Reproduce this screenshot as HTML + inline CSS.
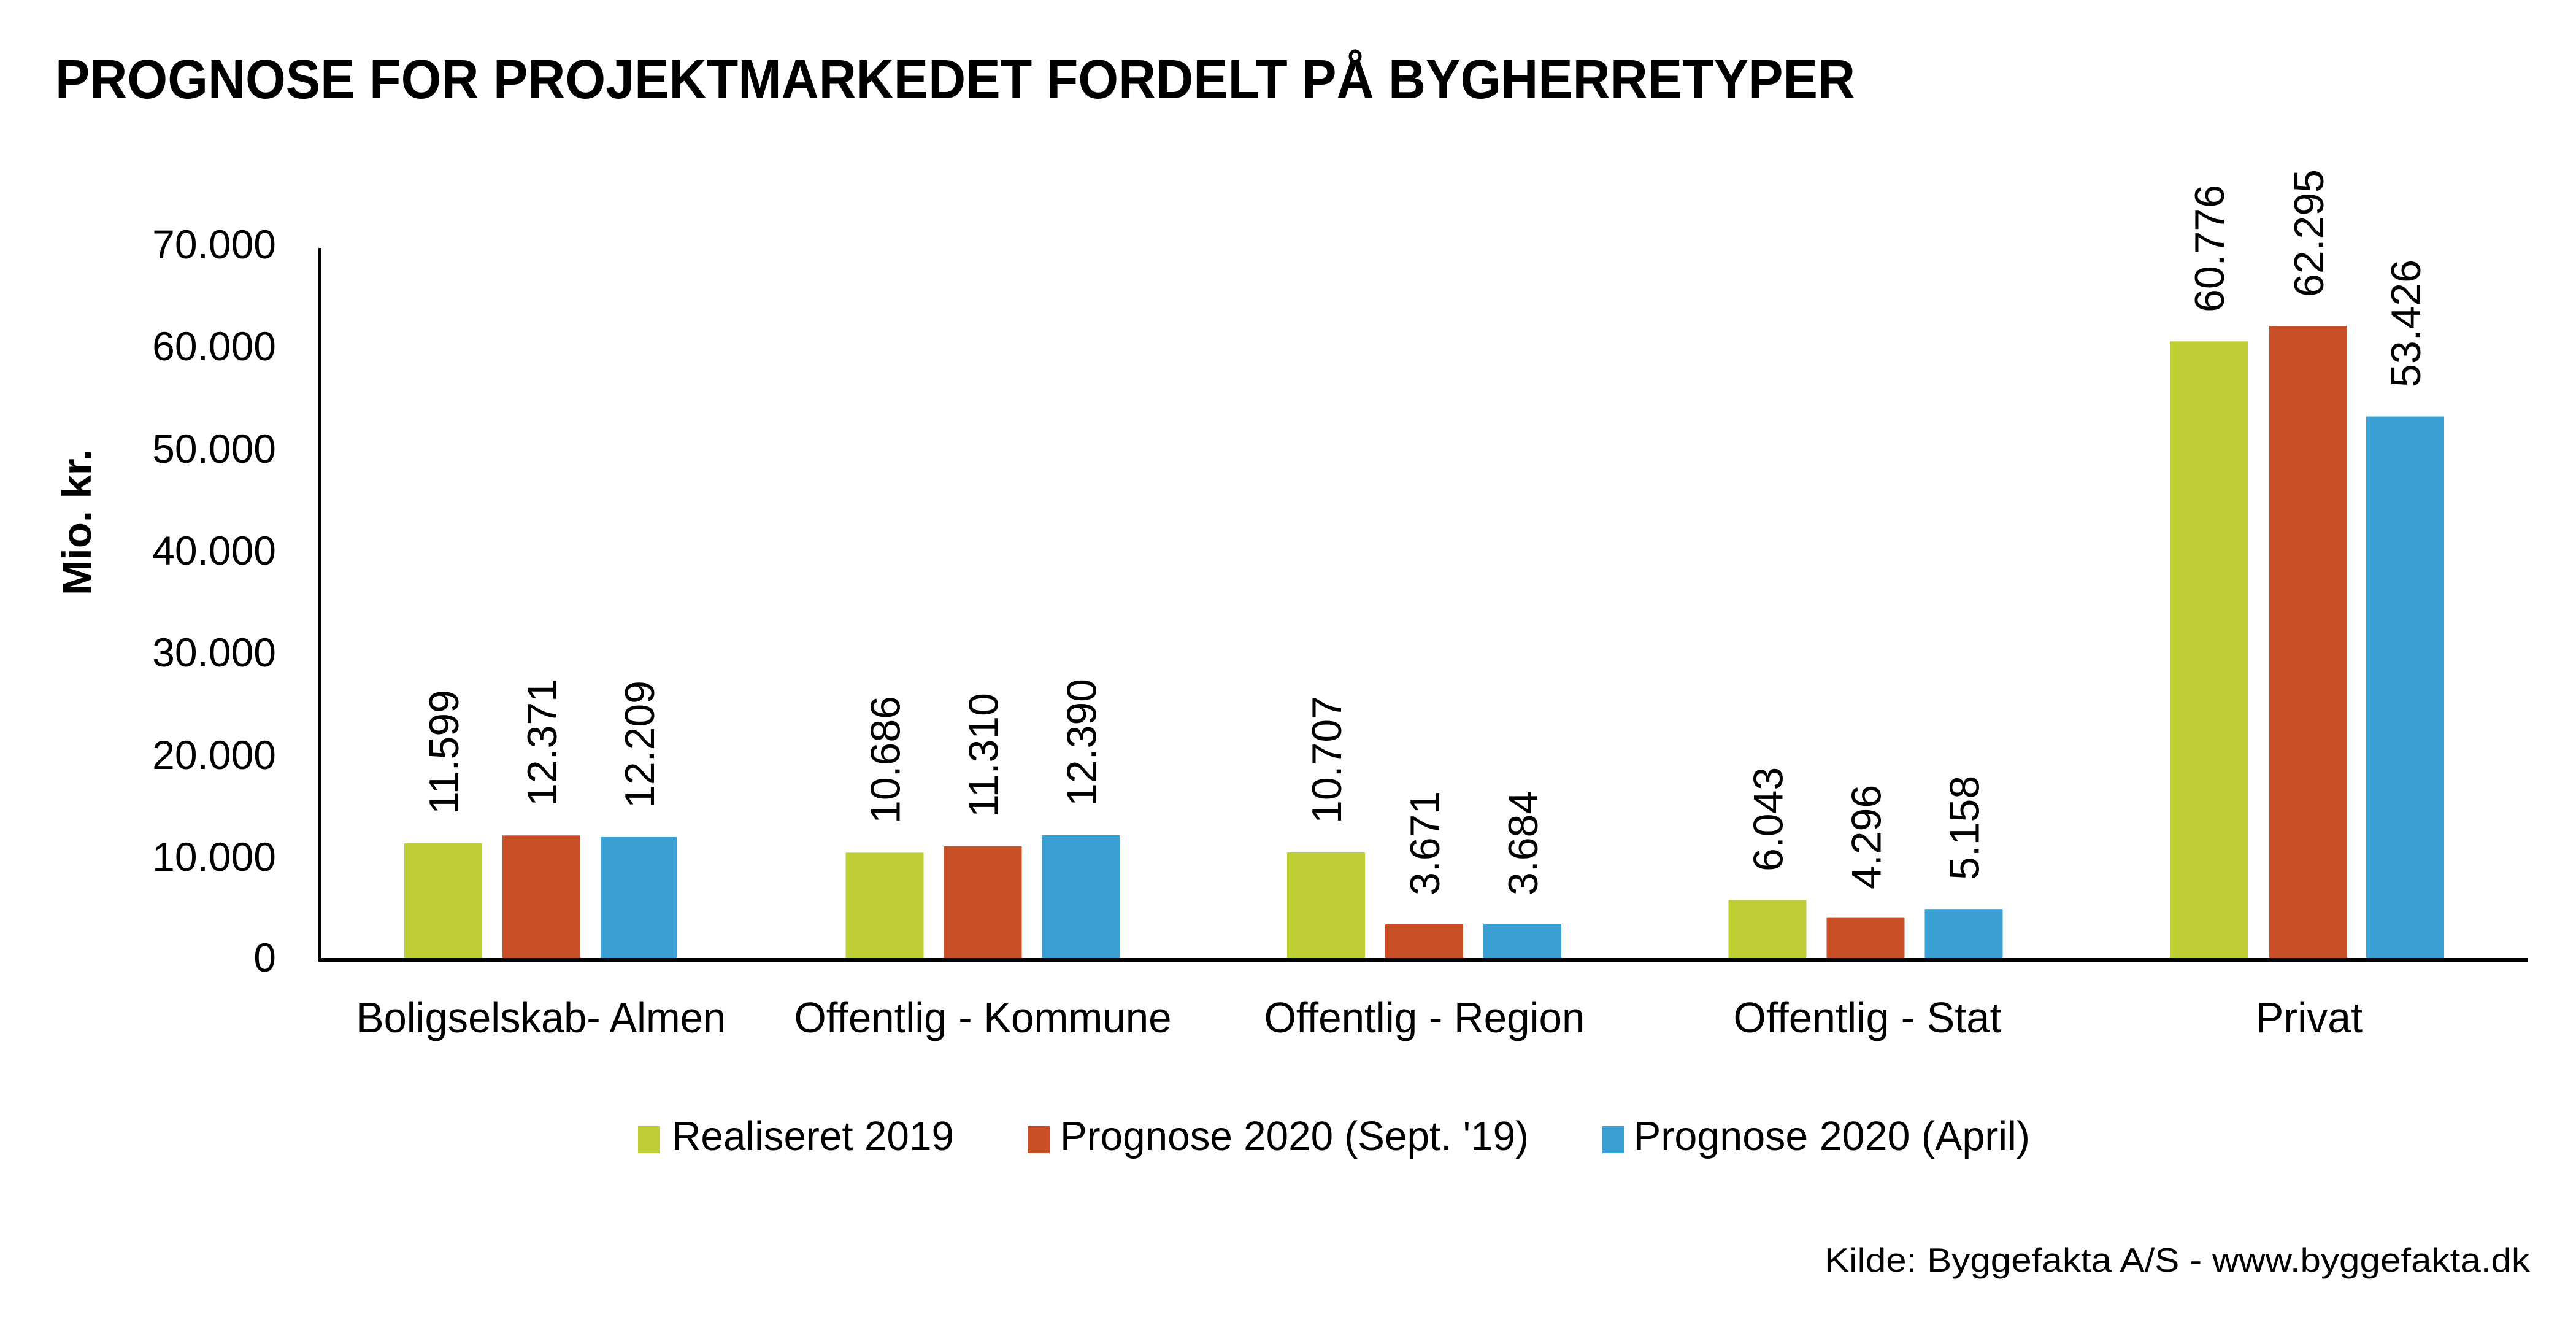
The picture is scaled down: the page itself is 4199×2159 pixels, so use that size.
<!DOCTYPE html>
<html>
<head>
<meta charset="utf-8">
<style>
html,body{margin:0;padding:0;background:#fff;}
svg{display:block;}
text{font-family:"Liberation Sans",Arial,sans-serif;fill:#000;}
</style>
</head>
<body>
<svg width="4199" height="2159" viewBox="0 0 4199 2159" xmlns="http://www.w3.org/2000/svg">
<rect x="0" y="0" width="4199" height="2159" fill="#fff"/>

<!-- Title -->
<text x="90" y="160" font-size="90" font-weight="bold" textLength="2934" lengthAdjust="spacingAndGlyphs">PROGNOSE FOR PROJEKTMARKEDET FORDELT PÅ BYGHERRETYPER</text>

<!-- Y axis title -->
<text transform="translate(148,851) rotate(-90)" x="0" y="0" font-size="66" font-weight="bold" text-anchor="middle" textLength="238" lengthAdjust="spacingAndGlyphs">Mio. kr.</text>

<!-- Y tick labels -->
<g font-size="66" text-anchor="end">
<text x="450" y="421">70.000</text>
<text x="450" y="587">60.000</text>
<text x="450" y="754">50.000</text>
<text x="450" y="920">40.000</text>
<text x="450" y="1086">30.000</text>
<text x="450" y="1253">20.000</text>
<text x="450" y="1419">10.000</text>
<text x="450" y="1583">0</text>
</g>

<!-- Bars -->
<g>
<!-- Group 1 -->
<rect x="659" y="1374.1" width="127" height="189.9" fill="#BECE34"/>
<rect x="819" y="1361.3" width="127" height="202.7" fill="#C74E25"/>
<rect x="979" y="1364.0" width="124" height="200.0" fill="#3AA0D3"/>
<!-- Group 2 -->
<rect x="1378.5" y="1389.3" width="127" height="174.7" fill="#BECE34"/>
<rect x="1538.5" y="1378.9" width="127" height="185.1" fill="#C74E25"/>
<rect x="1698.5" y="1361.0" width="127" height="203.0" fill="#3AA0D3"/>
<!-- Group 3 -->
<rect x="2098" y="1388.9" width="127" height="175.1" fill="#BECE34"/>
<rect x="2258" y="1506.0" width="127" height="58.0" fill="#C74E25"/>
<rect x="2418" y="1505.7" width="127" height="58.3" fill="#3AA0D3"/>
<!-- Group 4 -->
<rect x="2817.5" y="1466.5" width="127" height="97.5" fill="#BECE34"/>
<rect x="2977.5" y="1495.6" width="127" height="68.4" fill="#C74E25"/>
<rect x="3137.5" y="1481.2" width="127" height="82.8" fill="#3AA0D3"/>
<!-- Group 5 -->
<rect x="3537" y="556.3" width="127" height="1007.7" fill="#BECE34"/>
<rect x="3699" y="531.0" width="127" height="1033.0" fill="#C74E25"/>
<rect x="3857" y="678.5" width="127" height="885.5" fill="#3AA0D3"/>
</g>

<!-- Axes -->
<rect x="519" y="404" width="5" height="1163" fill="#000"/>
<rect x="519" y="1561" width="3601" height="6" fill="#000"/>

<!-- Data labels (rotated) -->
<g font-size="68">
<text transform="translate(747,1327) rotate(-90)">11.599</text>
<text transform="translate(907,1314) rotate(-90)">12.371</text>
<text transform="translate(1066,1317) rotate(-90)">12.209</text>

<text transform="translate(1466.5,1342) rotate(-90)">10.686</text>
<text transform="translate(1626.5,1332) rotate(-90)">11.310</text>
<text transform="translate(1786.5,1314) rotate(-90)">12.390</text>

<text transform="translate(2186,1342) rotate(-90)">10.707</text>
<text transform="translate(2346,1459) rotate(-90)">3.671</text>
<text transform="translate(2506,1459) rotate(-90)">3.684</text>

<text transform="translate(2905.5,1420) rotate(-90)">6.043</text>
<text transform="translate(3065.5,1449) rotate(-90)">4.296</text>
<text transform="translate(3225.5,1434) rotate(-90)">5.158</text>

<text transform="translate(3625,509) rotate(-90)">60.776</text>
<text transform="translate(3787,484) rotate(-90)">62.295</text>
<text transform="translate(3945,631) rotate(-90)">53.426</text>
</g>

<!-- Category labels -->
<g font-size="70" text-anchor="middle">
<text x="882" y="1682" textLength="602" lengthAdjust="spacingAndGlyphs">Boligselskab- Almen</text>
<text x="1602" y="1682" textLength="615" lengthAdjust="spacingAndGlyphs">Offentlig - Kommune</text>
<text x="2322" y="1682" textLength="523" lengthAdjust="spacingAndGlyphs">Offentlig - Region</text>
<text x="3044" y="1682" textLength="437" lengthAdjust="spacingAndGlyphs">Offentlig - Stat</text>
<text x="3764" y="1682" textLength="174" lengthAdjust="spacingAndGlyphs">Privat</text>
</g>

<!-- Legend -->
<rect x="1040" y="1835" width="36" height="44" fill="#BECE34"/>
<text x="1095" y="1874" font-size="67" textLength="460" lengthAdjust="spacingAndGlyphs">Realiseret 2019</text>
<rect x="1675" y="1835" width="36" height="44" fill="#C74E25"/>
<text x="1728" y="1874" font-size="67" textLength="764" lengthAdjust="spacingAndGlyphs">Prognose 2020 (Sept. '19)</text>
<rect x="2612" y="1835" width="36" height="44" fill="#3AA0D3"/>
<text x="2663" y="1874" font-size="67" textLength="646" lengthAdjust="spacingAndGlyphs">Prognose 2020 (April)</text>

<!-- Source -->
<text x="2974" y="2072" font-size="55" textLength="1150" lengthAdjust="spacingAndGlyphs">Kilde: Byggefakta A/S - www.byggefakta.dk</text>
</svg>
</body>
</html>
